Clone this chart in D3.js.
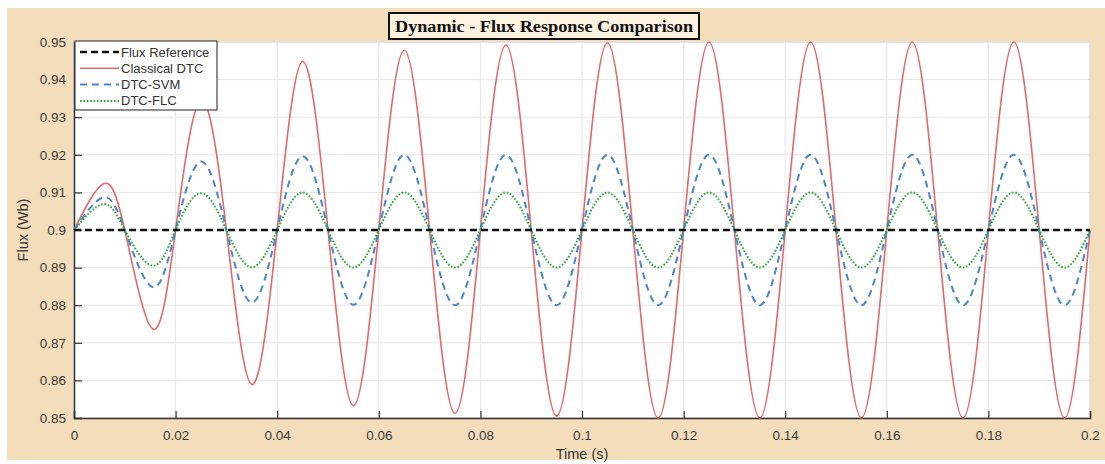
<!DOCTYPE html>
<html>
<head>
<meta charset="utf-8">
<script src="https://cdn.jsdelivr.net/npm/d3@7"></script>
<style>
  body { margin: 0; background: #ffffff; }
  svg { display: block; }
  .tickText { font-family: "Liberation Sans", Arial, sans-serif; font-size: 13.5px; fill: #3a3a3a; }
  .axisText { font-family: "Liberation Sans", Arial, sans-serif; font-size: 14.5px; fill: #333; }
  .legendText { font-family: "Liberation Sans", Arial, sans-serif; font-size: 13px; fill: #333; }
</style>
</head>
<body>
<script>
/********************************************************/
// Data
const timeValues = [
  0, 0.0058, 0.01, 0.0155, 0.02, 0.025, 0.03, 0.035, 0.04, 0.045,
  0.05, 0.055, 0.06, 0.065, 0.07, 0.075, 0.08, 0.085, 0.09, 0.095,
  0.1, 0.105, 0.11, 0.115, 0.12, 0.125, 0.13, 0.135, 0.14, 0.145,
  0.15, 0.155, 0.16, 0.165, 0.17, 0.175, 0.18, 0.185, 0.19, 0.195, 0.2
];
const classicalDTC = [
  0.9, 0.9123, 0.9, 0.8737, 0.9, 0.9345, 0.9, 0.8589, 0.9, 0.9448,
  0.9, 0.8533, 0.9, 0.9478, 0.9, 0.8512, 0.9, 0.9492, 0.9, 0.8505,
  0.9, 0.9498, 0.9, 0.8500, 0.9, 0.9500, 0.9, 0.8500, 0.9, 0.9500,
  0.9, 0.8500, 0.9, 0.9500, 0.9, 0.8500, 0.9, 0.9500, 0.9, 0.8500, 0.9
];
const dtcSVM = [
  0.9, 0.9087, 0.9, 0.8848, 0.9, 0.9182, 0.9, 0.8807, 0.9, 0.9196,
  0.9, 0.8801, 0.9, 0.9200, 0.9, 0.8800, 0.9, 0.9200, 0.9, 0.8800,
  0.9, 0.9200, 0.9, 0.8800, 0.9, 0.9200, 0.9, 0.8800, 0.9, 0.9200,
  0.9, 0.8800, 0.9, 0.9200, 0.9, 0.8800, 0.9, 0.9200, 0.9, 0.8800, 0.9
];
const dtcFLC = [
  0.9, 0.9069, 0.9, 0.8905, 0.9, 0.9098, 0.9, 0.8901, 0.9, 0.9100,
  0.9, 0.8900, 0.9, 0.9100, 0.9, 0.8900, 0.9, 0.9100, 0.9, 0.8900,
  0.9, 0.9100, 0.9, 0.8900, 0.9, 0.9100, 0.9, 0.8900, 0.9, 0.9100,
  0.9, 0.8900, 0.9, 0.9100, 0.9, 0.8900, 0.9, 0.9100, 0.9, 0.8900, 0.9
];
const refTime = [0, 0.2];
const fluxReference = [0.9, 0.9];

const xTicks = [0, 0.02, 0.04, 0.06, 0.08, 0.1, 0.12, 0.14, 0.16, 0.18, 0.2];
const yTicks = [0.85, 0.86, 0.87, 0.88, 0.89, 0.9, 0.91, 0.92, 0.93, 0.94, 0.95];
const legendNames = ["Flux Reference", "Classical DTC", "DTC-SVM", "DTC-FLC"];
/********************************************************/
const svgWidth = 1105;
const svgHeight = 464;

const chartMargin = {
  top: 42,
  right: 15,
  bottom: 46,
  left: 74,
};
const chartWidth = svgWidth - chartMargin.left - chartMargin.right;
const chartHeight = svgHeight - chartMargin.top - chartMargin.bottom;
/********************************************************/
const svg = d3.select("body").append("svg").attr("width", svgWidth).attr("height", svgHeight);

// figure background
svg.append("rect")
  .attr("x", 7).attr("y", 8)
  .attr("width", svgWidth - 7).attr("height", 452)
  .attr("fill", "#f3ddbb");

const chartGroup = svg.append("g")
  .attr("transform", `translate(${chartMargin.left}, ${chartMargin.top})`);

chartGroup.append("rect")
  .attr("width", chartWidth).attr("height", chartHeight)
  .attr("fill", "#ffffff")
  .attr("stroke", "#d0d0d0");
/********************************************************/
const xScale = d3.scaleLinear().domain([0, 0.2]).range([0, chartWidth]);
const yScale = d3.scaleLinear().domain([0.85, 0.95]).range([chartHeight, 0]);

// grid
chartGroup.append("g")
  .selectAll("line")
  .data(xTicks)
  .enter()
  .append("line")
  .attr("x1", (d) => xScale(d)).attr("x2", (d) => xScale(d))
  .attr("y1", 0).attr("y2", chartHeight)
  .attr("stroke", "#e6e6e6");

chartGroup.append("g")
  .selectAll("line")
  .data(yTicks)
  .enter()
  .append("line")
  .attr("x1", 0).attr("x2", chartWidth)
  .attr("y1", (d) => yScale(d)).attr("y2", (d) => yScale(d))
  .attr("stroke", "#e6e6e6");

// axes, ticks pointing inward like matlab
const bottomAxis = d3.axisBottom(xScale).tickValues(xTicks).tickSize(-7).tickPadding(12)
  .tickFormat((d) => d3.format("")(+d.toFixed(2)));
const leftAxis = d3.axisLeft(yScale).tickValues(yTicks).tickSize(-8).tickPadding(9)
  .tickFormat((d) => d3.format("")(+d.toFixed(2)));

const xAxisG = chartGroup.append("g").attr("transform", `translate(0, ${chartHeight})`).call(bottomAxis);
const yAxisG = chartGroup.append("g").call(leftAxis);

[xAxisG, yAxisG].forEach((g) => {
  g.select(".domain").attr("stroke", "#333").attr("stroke-width", 1.5);
  g.selectAll(".tick line").attr("stroke", "#333").attr("stroke-width", 1.2);
  g.selectAll(".tick text").attr("class", "tickText").attr("fill", null);
  g.attr("font-size", null).attr("font-family", null);
});
yAxisG.selectAll(".tick text").attr("x", -8);
/********************************************************/
// series
const lineGen = d3.line()
  .x((d) => xScale(d[0]))
  .y((d) => yScale(d[1]))
  .curve(d3.curveNatural);

const seriesList = [
  { name: legendNames[0], t: refTime, v: fluxReference, color: "#111111", width: 2.6, dash: "7,4" },
  { name: legendNames[1], t: timeValues, v: classicalDTC, color: "#e36868", width: 1.6, dash: null },
  { name: legendNames[2], t: timeValues, v: dtcSVM, color: "#4a86c9", width: 2, dash: "7,5" },
  { name: legendNames[3], t: timeValues, v: dtcFLC, color: "#2ca33a", width: 2, dash: "1.6,1.8" },
];
const drawOrder = [1, 2, 3, 0];

drawOrder.forEach((i) => {
  const s = seriesList[i];
  chartGroup.append("path")
    .datum(s.t.map((t, k) => [t, s.v[k]]))
    .attr("d", lineGen)
    .attr("fill", "none")
    .attr("stroke", s.color)
    .attr("stroke-width", s.width)
    .attr("stroke-dasharray", s.dash);
});
/********************************************************/
// axis labels
chartGroup.append("text")
  .attr("class", "axisText")
  .attr("x", chartWidth / 2)
  .attr("y", chartHeight + 41)
  .attr("text-anchor", "middle")
  .text("Time (s)");

chartGroup.append("text")
  .attr("class", "axisText")
  .attr("text-anchor", "middle")
  .attr("transform", `translate(-46, ${yScale(0.9)}) rotate(-90)`)
  .text("Flux (Wb)");
/********************************************************/
// title box
const titleGroup = svg.append("g");
titleGroup.append("rect")
  .attr("x", 389).attr("y", 13)
  .attr("width", 310).attr("height", 26)
  .attr("fill", "#fdf2e0")
  .attr("stroke", "#111")
  .attr("stroke-width", 2);
titleGroup.append("text")
  .attr("x", 544).attr("y", 32)
  .attr("text-anchor", "middle")
  .attr("font-family", "'Liberation Serif', 'Times New Roman', serif")
  .attr("font-weight", "bold")
  .attr("font-size", "16.5px")
  .attr("fill", "#111")
  .attr("textLength", 298)
  .attr("lengthAdjust", "spacingAndGlyphs")
  .text("Dynamic - Flux Response Comparison");
/********************************************************/
// legend
const legendGroup = svg.append("g").attr("transform", "translate(75, 41)");
legendGroup.append("rect")
  .attr("width", 142).attr("height", 69)
  .attr("fill", "#ffffff")
  .attr("stroke", "#444")
  .attr("stroke-width", 1.2);

const legendRows = legendGroup.selectAll(".legendRow")
  .data(seriesList)
  .enter()
  .append("g")
  .attr("class", "legendRow")
  .attr("transform", (d, i) => `translate(0, ${11 + i * 16.3})`);

legendRows.append("line")
  .attr("x1", 5).attr("x2", 44)
  .attr("stroke", (d) => d.color)
  .attr("stroke-width", (d) => d.width)
  .attr("stroke-dasharray", (d) => d.dash);

legendRows.append("text")
  .attr("class", "legendText")
  .attr("x", 46)
  .attr("y", 4.5)
  .text((d) => d.name);
</script>
</body>
</html>
